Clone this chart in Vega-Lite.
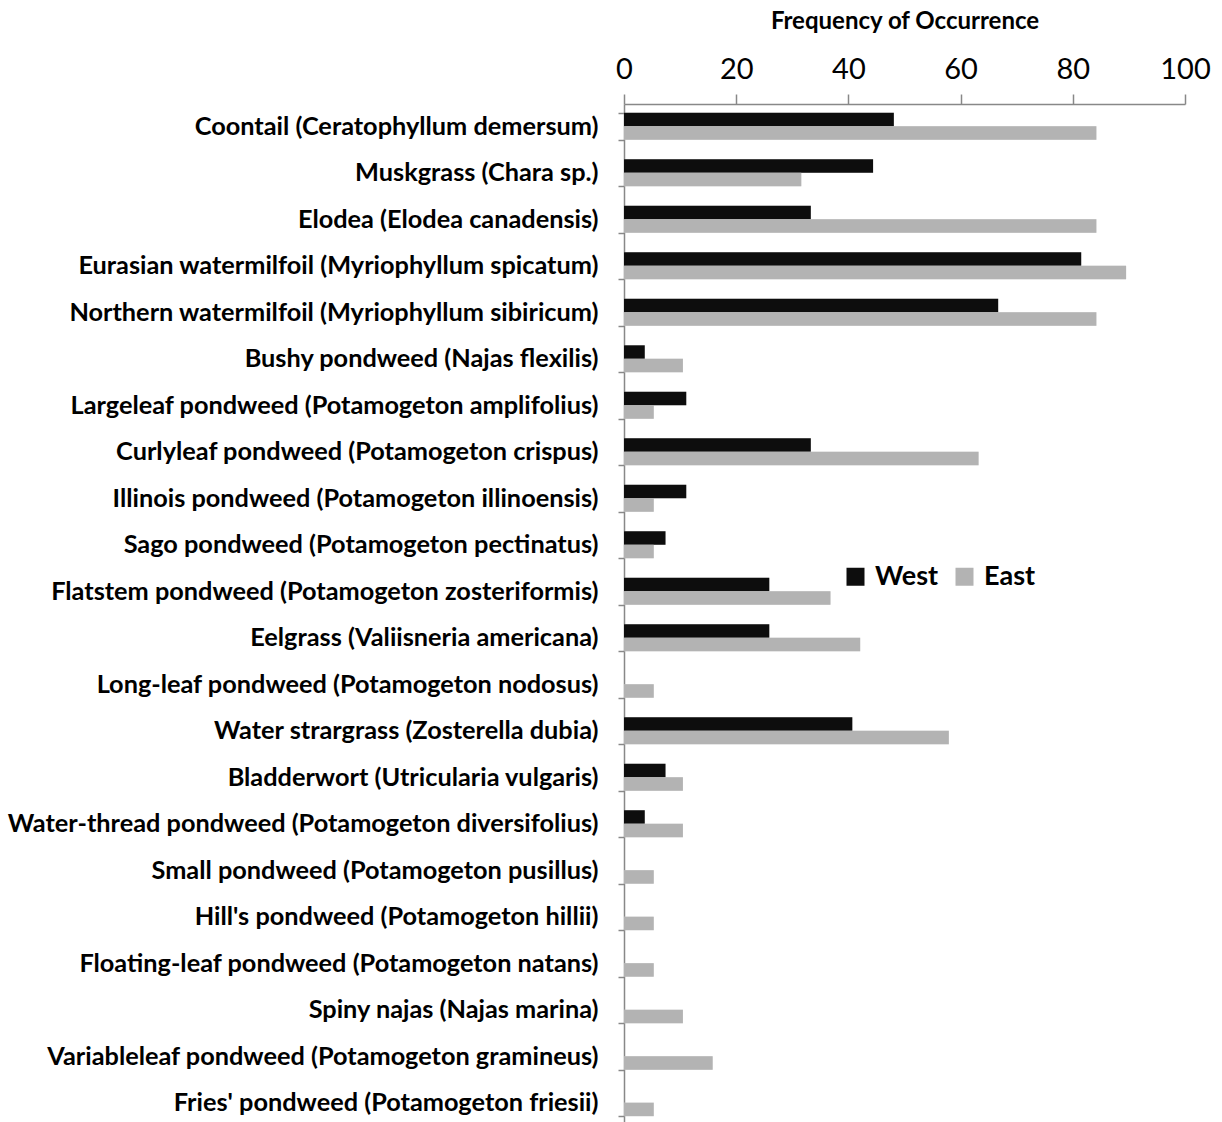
{
  "$schema": "https://vega.github.io/schema/vega-lite/v6.json",
  "autosize": "none",
  "width": 561,
  "height": 1021,
  "padding": {"left": 624, "top": 104, "right": 37, "bottom": 0},
  "background": "white",
  "config": {"view": {"stroke": null}, "font": "Lato"},
  "data": {
    "values": [
      {"species": "Coontail (Ceratophyllum demersum)", "region": "West", "value": 48.1},
      {"species": "Coontail (Ceratophyllum demersum)", "region": "East", "value": 84.2},
      {"species": "Muskgrass (Chara sp.)", "region": "West", "value": 44.4},
      {"species": "Muskgrass (Chara sp.)", "region": "East", "value": 31.6},
      {"species": "Elodea (Elodea canadensis)", "region": "West", "value": 33.3},
      {"species": "Elodea (Elodea canadensis)", "region": "East", "value": 84.2},
      {"species": "Eurasian watermilfoil (Myriophyllum spicatum)", "region": "West", "value": 81.5},
      {"species": "Eurasian watermilfoil (Myriophyllum spicatum)", "region": "East", "value": 89.5},
      {"species": "Northern watermilfoil (Myriophyllum sibiricum)", "region": "West", "value": 66.7},
      {"species": "Northern watermilfoil (Myriophyllum sibiricum)", "region": "East", "value": 84.2},
      {"species": "Bushy pondweed (Najas flexilis)", "region": "West", "value": 3.7},
      {"species": "Bushy pondweed (Najas flexilis)", "region": "East", "value": 10.5},
      {"species": "Largeleaf pondweed (Potamogeton amplifolius)", "region": "West", "value": 11.1},
      {"species": "Largeleaf pondweed (Potamogeton amplifolius)", "region": "East", "value": 5.3},
      {"species": "Curlyleaf pondweed (Potamogeton crispus)", "region": "West", "value": 33.3},
      {"species": "Curlyleaf pondweed (Potamogeton crispus)", "region": "East", "value": 63.2},
      {"species": "Illinois pondweed (Potamogeton illinoensis)", "region": "West", "value": 11.1},
      {"species": "Illinois pondweed (Potamogeton illinoensis)", "region": "East", "value": 5.3},
      {"species": "Sago pondweed (Potamogeton pectinatus)", "region": "West", "value": 7.4},
      {"species": "Sago pondweed (Potamogeton pectinatus)", "region": "East", "value": 5.3},
      {"species": "Flatstem pondweed (Potamogeton zosteriformis)", "region": "West", "value": 25.9},
      {"species": "Flatstem pondweed (Potamogeton zosteriformis)", "region": "East", "value": 36.8},
      {"species": "Eelgrass (Valiisneria americana)", "region": "West", "value": 25.9},
      {"species": "Eelgrass (Valiisneria americana)", "region": "East", "value": 42.1},
      {"species": "Long-leaf pondweed (Potamogeton nodosus)", "region": "West", "value": 0},
      {"species": "Long-leaf pondweed (Potamogeton nodosus)", "region": "East", "value": 5.3},
      {"species": "Water strargrass (Zosterella dubia)", "region": "West", "value": 40.7},
      {"species": "Water strargrass (Zosterella dubia)", "region": "East", "value": 57.9},
      {"species": "Bladderwort (Utricularia vulgaris) ", "region": "West", "value": 7.4},
      {"species": "Bladderwort (Utricularia vulgaris) ", "region": "East", "value": 10.5},
      {"species": "Water-thread pondweed (Potamogeton diversifolius)", "region": "West", "value": 3.7},
      {"species": "Water-thread pondweed (Potamogeton diversifolius)", "region": "East", "value": 10.5},
      {"species": "Small pondweed (Potamogeton pusillus)", "region": "West", "value": 0},
      {"species": "Small pondweed (Potamogeton pusillus)", "region": "East", "value": 5.3},
      {"species": "Hill's pondweed (Potamogeton hillii)", "region": "West", "value": 0},
      {"species": "Hill's pondweed (Potamogeton hillii)", "region": "East", "value": 5.3},
      {"species": "Floating-leaf pondweed (Potamogeton natans)", "region": "West", "value": 0},
      {"species": "Floating-leaf pondweed (Potamogeton natans)", "region": "East", "value": 5.3},
      {"species": "Spiny najas (Najas marina)", "region": "West", "value": 0},
      {"species": "Spiny najas (Najas marina)", "region": "East", "value": 10.5},
      {"species": "Variableleaf pondweed (Potamogeton gramineus)", "region": "West", "value": 0},
      {"species": "Variableleaf pondweed (Potamogeton gramineus)", "region": "East", "value": 15.8},
      {"species": "Fries' pondweed (Potamogeton friesii)", "region": "West", "value": 0},
      {"species": "Fries' pondweed (Potamogeton friesii)", "region": "East", "value": 5.3}
    ]
  },
  "encoding": {
    "y": {
      "field": "species",
      "type": "nominal",
      "sort": null,
      "scale": {"paddingInner": 0.42, "paddingOuter": 0.19},
      "axis": {
        "title": null,
        "tickBand": "extent",
        "domainColor": "#888888",
        "domainWidth": 1.5,
        "tickColor": "#888888",
        "tickWidth": 1.5,
        "tickSize": 6,
        "labelFont": "Lato",
        "labelFontWeight": "bold",
        "labelFontSize": 25.3,
        "labelColor": "black",
        "labelPadding": 20,
        "labelLimit": 800
      }
    },
    "yOffset": {
      "field": "region",
      "type": "nominal",
      "sort": ["West", "East"],
      "scale": {"paddingInner": 0, "paddingOuter": 0}
    },
    "x": {
      "field": "value",
      "type": "quantitative",
      "scale": {"domain": [0, 100], "nice": false},
      "axis": {
        "orient": "top",
        "title": "Frequency of Occurrence",
        "titleFont": "Lato",
        "titleFontSize": 24,
        "titleFontWeight": "bold",
        "titleColor": "black",
        "titlePadding": 22,
        "values": [0, 20, 40, 60, 80, 100],
        "grid": false,
        "labelFlush": false,
        "labelOverlap": false,
        "domainColor": "#888888",
        "domainWidth": 1.5,
        "tickColor": "#888888",
        "tickWidth": 1.5,
        "tickSize": 10,
        "labelFont": "Lato",
        "labelFontSize": 29,
        "labelColor": "black",
        "labelPadding": 10
      }
    }
  },
  "layer": [
    {
      "mark": {"type": "bar", "color": "#d4d4d4", "opacity": 0.7, "x2Offset": 3, "y2Offset": 3},
      "encoding": {}
    },
    {
      "mark": {"type": "bar"},
      "encoding": {
        "color": {
          "field": "region",
          "type": "nominal",
          "scale": {"domain": ["West", "East"], "range": ["#0d0d0d", "#b3b3b3"]},
          "legend": {
            "title": null,
            "orient": "none",
            "legendX": 218,
            "legendY": 459,
            "direction": "horizontal",
            "symbolType": "square",
            "symbolSize": 324,
            "symbolStrokeWidth": 0,
            "labelFont": "Lato",
            "labelFontSize": 27,
            "labelFontWeight": "bold",
            "labelColor": "black",
            "columnPadding": 12,
            "labelOffset": 6
          }
        }
      }
    }
  ]
}
